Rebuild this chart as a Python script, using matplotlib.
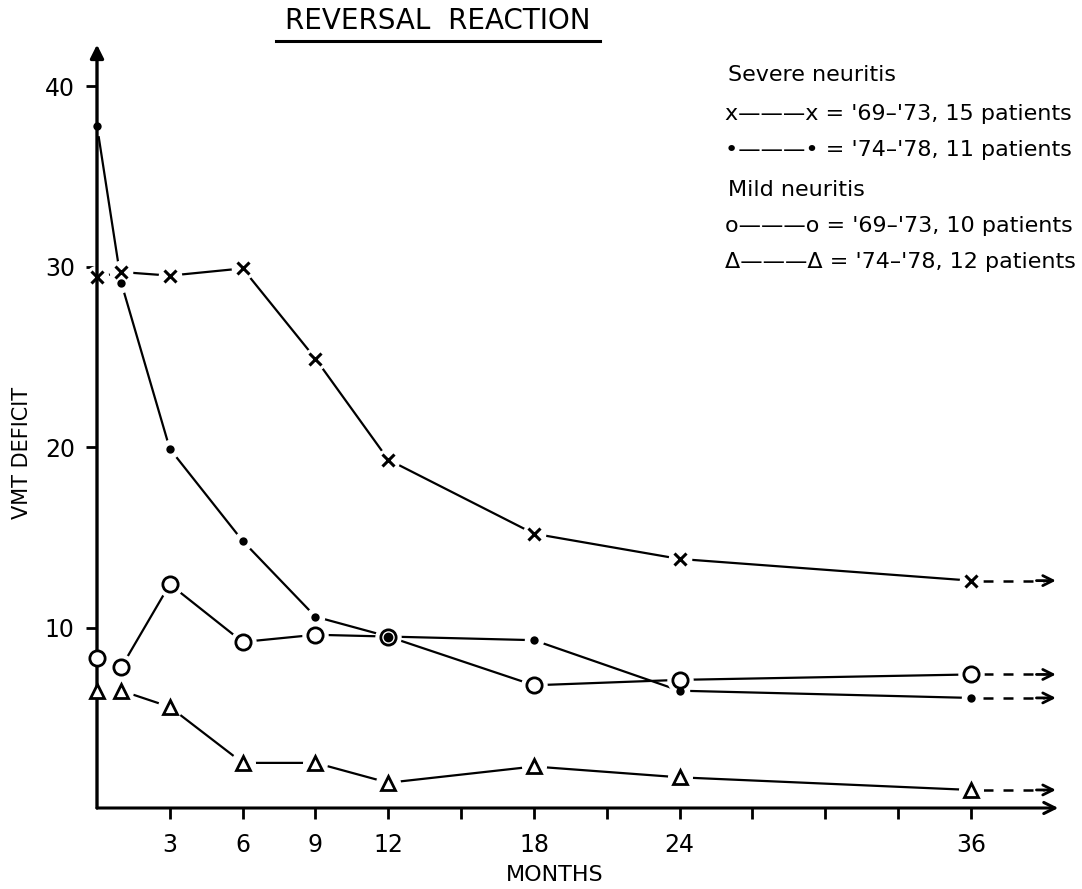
import matplotlib
matplotlib.use('Agg')
import matplotlib.pyplot as plt
from matplotlib.lines import Line2D

months = [0, 1, 3, 6, 9, 12, 18, 24, 36]
severe_6973 = [29.4, 29.7, 29.5, 29.9, 24.9, 19.3, 15.2, 13.8, 12.6]
severe_7478 = [37.8, 29.1, 19.9, 14.8, 10.6, 9.5, 9.3, 6.5, 6.1]
mild_6973 = [8.3, 7.8, 12.4, 9.2, 9.6, 9.5, 6.8, 7.1, 7.4]
mild_7478 = [6.5, 6.5, 5.6, 2.5, 2.5, 1.4, 2.3, 1.7, 1.0]

xtick_pos = [3, 6, 9, 12, 15, 18, 21, 24, 27, 30, 33, 36]
xtick_lab = ['3', '6', '9', '12', '', '18', '', '24', '', '', '', '36']
ytick_pos = [10, 20, 30, 40]

legend_lines = [
    'Severe neuritis',
    "x\u2014\u2014\u2014x = '69\u2013'73, 15 patients",
    "\u2022\u2014\u2014\u2014\u2022 = '74\u2013'78, 11 patients",
    'Mild neuritis',
    "o\u2014\u2014\u2014o = '69\u2013'73, 10 patients",
    "\u0394\u2014\u2014\u2014\u0394 = '74\u2013'78, 12 patients",
]

plt.rcParams['font.family'] = ['DejaVu Sans']

W, H = 1082, 889
fig = plt.figure(figsize=(W / 100, H / 100), dpi=100)
ax = fig.add_axes([97 / W, 81 / H, 971 / W, 776 / H])
ax.set_xlim(0, 40)
ax.set_ylim(0, 43)
for s in ax.spines.values():
    s.set_visible(False)

series = [
    (severe_6973, dict(marker='x', ms=9, mew=2.2, mfc='black')),
    (severe_7478, dict(marker='o', ms=6, mew=0, mfc='black')),
    (mild_6973, dict(marker='o', ms=11, mew=2, mfc='white')),
    (mild_7478, dict(marker='^', ms=10, mew=2, mfc='white')),
]

for vals, st in series:
    ax.plot(months, vals, color='black', lw=1.6, zorder=2, clip_on=False)
for vals, st in series:
    # white halo so the lines stop short of the markers
    ax.plot(months, vals, ls='none', marker='o', ms=st['ms'] + 7,
            mfc='white', mec='white', zorder=3, clip_on=False)
for vals, st in series:
    ax.plot(months, vals, ls='none', color='black', mec='black', zorder=5,
            clip_on=False, **st)
    # dashed continuation with arrow head
    ax.plot([months[-1] + 0.5, months[-1] + 3.0], [vals[-1], vals[-1]],
            color='black', lw=1.8, ls=(0, (4, 4)), zorder=2)
    ax.annotate('', xy=(months[-1] + 3.5, vals[-1]),
                xytext=(months[-1] + 2.7, vals[-1]),
                arrowprops=dict(arrowstyle='->', color='black', lw=2,
                                mutation_scale=18, shrinkA=0, shrinkB=0),
                zorder=2)

# dot inside open circle at 12 months
ax.plot([12], [severe_7478[5]], ls='none', marker='o', ms=6, color='black', zorder=6)

# axes drawn as arrows
ax.annotate('', xy=(39.6, 0), xytext=(0, 0), zorder=4,
            arrowprops=dict(arrowstyle='->', color='black', lw=2.2,
                            mutation_scale=20, shrinkA=0, shrinkB=0))
ax.annotate('', xy=(0, 42.3), xytext=(0, 0), zorder=4,
            arrowprops=dict(arrowstyle='-|>', color='black', lw=2.4,
                            mutation_scale=20, shrinkA=0, shrinkB=0))

ax.set_xticks(xtick_pos)
ax.set_xticklabels(xtick_lab)
ax.set_xticks([15, 30], minor=True)
ax.tick_params(axis='x', which='major', direction='out', length=8, width=2,
               labelsize=17, pad=10)
ax.tick_params(axis='x', which='minor', direction='out', length=14, width=2)
ax.set_yticks(ytick_pos)
ax.tick_params(axis='y', direction='out', length=8, width=2, labelsize=17, pad=8)

fig.text(555 / W, 1 - 875 / H, 'MONTHS', ha='center', va='center', fontsize=16)
fig.text(22 / W, 1 - 453 / H, 'VMT DEFICIT', ha='center', va='center',
         rotation=90, fontsize=15)

fig.text(438 / W, 1 - 21 / H, 'REVERSAL  REACTION', ha='center', va='center',
         fontsize=20)
fig.add_artist(Line2D([276 / W, 600 / W], [1 - 41 / H, 1 - 41 / H],
                      color='black', lw=2.2))

ys = [75, 114, 150, 190, 226, 262]
for txt, y in zip(legend_lines, ys):
    x = 728 if 'neuritis' in txt else 725
    fig.text(x / W, 1 - y / H, txt, ha='left', va='center', fontsize=16)

fig.savefig('out.png', dpi=100)
